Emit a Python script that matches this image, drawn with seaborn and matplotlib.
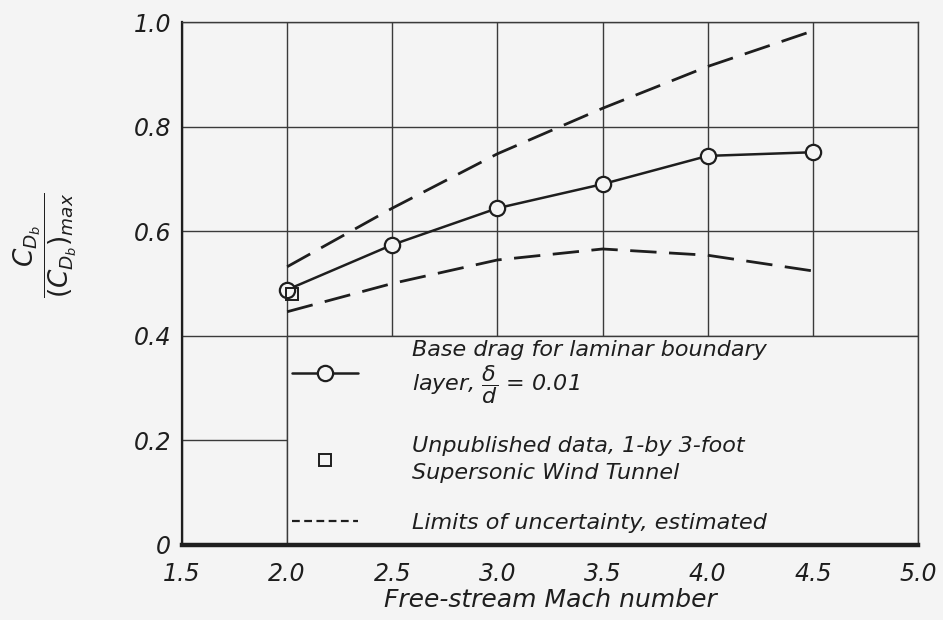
import matplotlib
matplotlib.use("Agg")
import matplotlib.pyplot as plt
import seaborn as sns
from matplotlib.lines import Line2D
from matplotlib.patches import Rectangle
from matplotlib.font_manager import FontProperties

# ---- data ----
mach = [2.0, 2.5, 3.0, 3.5, 4.0, 4.5]
base_drag = [0.488, 0.574, 0.644, 0.690, 0.744, 0.751]
upper_limit = [0.532, 0.644, 0.748, 0.835, 0.915, 0.983]
lower_limit = [0.446, 0.500, 0.545, 0.566, 0.554, 0.524]
tunnel_mach = [2.025]
tunnel_value = [0.480]

x_ticks = [1.5, 2.0, 2.5, 3.0, 3.5, 4.0, 4.5, 5.0]
x_tick_labels = ["1.5", "2.0", "2.5", "3.0", "3.5", "4.0", "4.5", "5.0"]
y_ticks = [0.0, 0.2, 0.4, 0.6, 0.8, 1.0]
y_tick_labels = ["0", "0.2", "0.4", "0.6", "0.8", "1.0"]

legend_labels = [
    "Base drag for laminar boundary\nlayer, $\\dfrac{\\delta}{d}$ = 0.01",
    "Unpublished data, 1-by 3-foot\nSupersonic Wind Tunnel",
    "Limits of uncertainty, estimated",
]
x_label = "Free-stream Mach number"
y_label = r"$\dfrac{C_{D_b}}{(C_{D_b})_{max}}$"

# ---- style ----
sns.set_theme(style="white")
bg = "#f4f4f4"
ink = "#1e1e1e"
grid_c = "#3a3a3a"
plt.rcParams["font.family"] = ["DejaVu Sans"]
plt.rcParams["mathtext.fontset"] = "dejavusans"
plt.rcParams["mathtext.default"] = "it"

fig = plt.figure(figsize=(9.43, 6.2), dpi=100, facecolor=bg)
ax = fig.add_axes([0.193, 0.121, 0.7805, 0.8435])
ax.set_facecolor(bg)

ax.set_xlim(1.5, 5.0)
ax.set_ylim(0.0, 1.0)
ax.set_xticks(x_ticks)
ax.set_yticks(y_ticks)
ax.set_xticklabels(x_tick_labels, fontstyle="italic", fontsize=17, color=ink)
ax.set_yticklabels(y_tick_labels, fontstyle="italic", fontsize=17, color=ink)
ax.tick_params(axis="y", length=0, pad=8)
ax.tick_params(axis="x", length=0, pad=12)

ax.set_axisbelow(True)
ax.grid(True, color=grid_c, linewidth=1.0)

# legend area covers the grid in the lower right
ax.add_patch(Rectangle((2.0, 0.0), 3.0, 0.4, facecolor=bg, edgecolor=grid_c,
                       linewidth=1.0, zorder=0.8))

dash = (0, (9.5, 4.5))
sns.lineplot(x=mach, y=upper_limit, ax=ax, color=ink, linewidth=2.0,
             linestyle=dash, zorder=3)
sns.lineplot(x=mach, y=lower_limit, ax=ax, color=ink, linewidth=2.0,
             linestyle=dash, zorder=3)
sns.lineplot(x=mach, y=base_drag, ax=ax, color=ink, linewidth=1.8,
             marker="o", markersize=11, markerfacecolor=bg,
             markeredgecolor=ink, markeredgewidth=1.6, zorder=4)
sns.lineplot(x=tunnel_mach, y=tunnel_value, ax=ax, color=ink, linestyle="",
             marker="s", markersize=8, markerfacecolor="none",
             markeredgecolor=ink, markeredgewidth=1.4, zorder=4)

for side in ["top", "right"]:
    ax.spines[side].set_linewidth(1.0)
    ax.spines[side].set_color(grid_c)
ax.spines["left"].set_linewidth(1.6)
ax.spines["left"].set_color(ink)
ax.spines["bottom"].set_linewidth(3.2)
ax.spines["bottom"].set_color(ink)

# legend
handles = [
    Line2D([], [], color=ink, linewidth=1.8, marker="o", markersize=11,
           markerfacecolor=bg, markeredgecolor=ink, markeredgewidth=1.6),
    Line2D([], [], color=ink, linestyle="", marker="s", markersize=8,
           markerfacecolor="none", markeredgecolor=ink, markeredgewidth=1.4),
    Line2D([], [], color=ink, linewidth=1.6, linestyle=(0, (3.5, 2.0))),
]
leg = ax.legend(handles=handles, labels=legend_labels, loc="upper left",
                bbox_to_anchor=(2.0, 0.4), bbox_transform=ax.transData,
                frameon=False, prop=FontProperties(style="italic", size=16),
                handlelength=3.0, handletextpad=2.4, labelspacing=1.35,
                borderaxespad=0.0, borderpad=0.2)
for i, t in enumerate(leg.get_texts()):
    t.set_color(ink)
    t.set_linespacing(1.1 if i == 0 else 1.45)
leg.set_zorder(5)

ax.set_xlabel(x_label, fontsize=18, fontstyle="italic", color=ink, va="center")
ax.xaxis.set_label_coords(0.5, -0.105)
ax.set_ylabel(y_label, fontsize=19, color=ink, rotation=90, va="center")
ax.yaxis.set_label_coords(-0.186, 0.574)

fig.savefig("out.png", dpi=100, facecolor=bg)
